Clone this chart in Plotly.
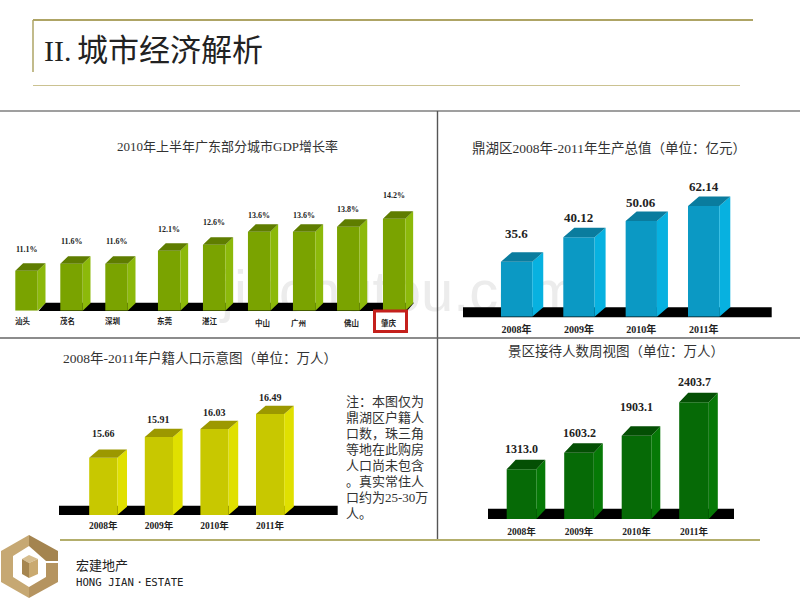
import plotly.graph_objects as go

W, H = 800, 600

# Printed figures and categories.
gdp_cities = ["汕头", "茂名", "深圳", "东莞", "湛江", "中山", "广州", "佛山", "肇庆"]
gdp_labels = ["11.1%", "11.6%", "11.6%", "12.1%", "12.6%", "13.6%", "13.6%", "13.8%", "14.2%"]
years = ["2008年", "2009年", "2010年", "2011年"]
output_labels = ["35.6", "40.12", "50.06", "62.14"]
population_labels = ["15.66", "15.91", "16.03", "16.49"]
visitor_labels = ["1313.0", "1603.2", "1903.1", "2403.7"]

# The reference's bars are not proportional to their printed figures, so the bar
# lengths are read off the picture separately, in the units of each chart's tallest bar.
gdp_lengths = [6.17, 7.25, 7.25, 9.26, 10.19, 12.2, 12.2, 12.96, 14.2]
output_lengths = [30.9, 44.6, 53.7, 62.14]
population_lengths = [9.33, 12.72, 14.03, 16.49]
visitor_lengths = [1024, 1366, 1713, 2403.7]

# Layout (pixels on the 800x600 slide) and style.
gdp_slots = [0, 1, 2, 3.17, 4.17, 5.17, 6.17, 7.15, 8.17]
gdp_label_nudge = [-4, -4, -4, -4, -4, 3, -6, 3, -5]
gdp_label_drop = [9.5, 9.5, 9.5, 9.5, 9.5, 11.5, 11.5, 11.5, 11.5]
PANELS = [
    dict(cats=gdp_cities, slots=gdp_slots, lengths=gdp_lengths, labels=gdp_labels,
         first=26.5, step=45.0, bar=22.4, dx=7.8, dy=7.5, base=310.7, px_top=92.0,
         left=8, right=425, band=(38.5, 414, 302.7, 311), slant=7,
         front="#7aa300", side="#8cb90a", top="#5f7d00",
         label_font=8, rise=[21.7, 22, 22, 21.7, 22.3, 15.7, 15.7, 17.4, 23],
         tick_font=7.5, ticks=False),
    dict(cats=years, slots=[0, 1, 2, 3], lengths=output_lengths, labels=output_labels,
         first=516.6, step=62.35, bar=31.3, dx=11, dy=9.5, base=316.7, px_top=110.7,
         left=455, right=780, band=(463, 771.7, 307.3, 317.3), slant=0,
         front="#0b99c4", side="#07b1e0", top="#0a7c9e",
         label_font=13, rise=[27.7, 19.6, 19, 20], tick_font=10, ticks=True, standoff=5),
    dict(cats=years, slots=[0, 1, 2, 3], lengths=population_lengths, labels=population_labels,
         first=103.3, step=55.6, bar=28.2, dx=9.6, dy=8.3, base=515, px_top=101.0,
         left=50, right=345, band=(59, 337.7, 505.7, 515), slant=0,
         front="#c8c800", side="#e0e000", top="#9c9800",
         label_font=10, rise=[24, 17.6, 17, 17], tick_font=9.5, ticks=True, standoff=3),
    dict(cats=years, slots=[0, 1, 2, 3], lengths=visitor_lengths, labels=visitor_labels,
         first=521.5, step=57.5, bar=29.6, dx=9, dy=9.5, base=519, px_top=116.7,
         left=480, right=745, band=(488, 734, 508.7, 519), slant=0,
         front="#066a06", side="#067906", top="#044f04",
         label_font=12, rise=[20.6, 20, 28.7, 20], tick_font=9.5, ticks=True, standoff=5),
]

TITLE_FONT = "Liberation Serif, Noto Sans CJK SC"
INK = "#333333"
GOLD = "#aea465"
RULE = "#7f7f7f"


def px(x):
    return x / W


def py(y):
    return 1 - y / H


def path(points):
    return "M " + " L ".join(f"{px(x):.5f},{py(y):.5f}" for x, y in points) + " Z"


fig = go.Figure()
shapes, annotations = [], []
axes = {}


def text(x, y, s, size, font=TITLE_FONT, color=INK, anchor="center", bold=False):
    annotations.append(dict(
        x=px(x), y=py(y), xref="paper", yref="paper", text=f"<b>{s}</b>" if bold else s,
        showarrow=False, xanchor=anchor, yanchor="middle",
        font=dict(size=size, family=font, color=color),
    ))


def line(x0, y0, x1, y1, color, width):
    shapes.append(dict(type="line", xref="paper", yref="paper", x0=px(x0), y0=py(y0),
                       x1=px(x1), y1=py(y1), line=dict(color=color, width=width)))


# Watermark sits under the bars, so it goes in as a below-layer shape label.
shapes.append(dict(type="rect", xref="paper", yref="paper", layer="below",
                   x0=px(200), x1=px(600), y0=py(320), y1=py(250), line=dict(width=0),
                   fillcolor="rgba(0,0,0,0)",
                   label=dict(text="jinchutou.com", textposition="middle center",
                              font=dict(size=58, family="Liberation Sans", color="#ececec"))))

for i, p in enumerate(PANELS):
    suffix = "" if i == 0 else str(i + 1)
    xa, ya = f"x{suffix}", f"y{suffix}"
    tallest = max(p["lengths"])
    unit = tallest / p["px_top"]              # value units per pixel
    ceiling_px = p["px_top"] + 30
    slots = p["slots"]
    half = p["bar"] / p["step"] / 2
    depth_x = p["dx"] / p["step"]
    depth_y = p["dy"] * unit

    axes[f"xaxis{suffix}"] = dict(
        domain=[px(p["left"]), px(p["right"])],
        range=[(p["left"] - p["first"]) / p["step"], (p["right"] - p["first"]) / p["step"]],
        anchor=ya, showgrid=False, zeroline=False, showline=False, ticks="",
        tickmode="array", tickvals=slots if p["ticks"] else [],
        ticktext=p["cats"] if p["ticks"] else [],
        ticklabelstandoff=p.get("standoff", 0),
        tickfont=dict(size=p["tick_font"], family="Liberation Serif, Noto Sans CJK SC", color="#222222",
                      weight="bold"),
    )
    axes[f"yaxis{suffix}"] = dict(
        domain=[py(p["base"]), py(p["base"] - ceiling_px)],
        range=[0, ceiling_px * unit], anchor=xa, visible=False,
    )

    # Black floor band behind the bars.
    L, R, T, B = p["band"]
    s = p["slant"]
    shapes.append(dict(type="path", xref="paper", yref="paper", layer="below",
                       path=path([(L, B), (L + s, T), (R, T), (R - s, B)]),
                       fillcolor="#000000", line=dict(width=0)))

    # Side and top faces, derived from each bar's length.
    side_x, side_y, top_x, top_y = [], [], [], []
    for c, v in zip(slots, p["lengths"]):
        r = c + half
        l = c - half
        side_x += [r, r + depth_x, r + depth_x, r, r, None]
        side_y += [0, depth_y, v + depth_y, v, 0, None]
        top_x += [l, l + depth_x, r + depth_x, r, l, None]
        top_y += [v, v + depth_y, v + depth_y, v, v, None]
    fig.add_trace(go.Scatter(x=side_x, y=side_y, xaxis=xa, yaxis=ya, mode="lines", fill="toself",
                             fillcolor=p["side"], line=dict(width=0), hoverinfo="skip", showlegend=False))
    fig.add_trace(go.Scatter(x=top_x, y=top_y, xaxis=xa, yaxis=ya, mode="lines", fill="toself",
                             fillcolor=p["top"], line=dict(width=0), hoverinfo="skip", showlegend=False))
    fig.add_trace(go.Bar(x=slots, y=p["lengths"], width=half * 2, xaxis=xa, yaxis=ya,
                         marker=dict(color=p["front"], line=dict(width=0)), showlegend=False,
                         hovertext=p["labels"], hoverinfo="text"))

    # Printed figures above the bars.
    for c, v, lab, rise in zip(slots, p["lengths"], p["labels"], p["rise"]):
        annotations.append(dict(
            x=c, y=v, xref=xa, yref=ya, text=f"<b>{lab}</b>", showarrow=False,
            xanchor="center", yanchor="middle", yshift=rise,
            font=dict(size=p["label_font"], family="Liberation Serif", color="#222222"),
        ))

    if not p["ticks"]:
        for c, name, nudge, drop in zip(slots, p["cats"], gdp_label_nudge, gdp_label_drop):
            annotations.append(dict(
                x=c, y=0, xref=xa, yref=ya, text=f"<b>{name}</b>", showarrow=False,
                xanchor="center", yanchor="middle", xshift=nudge, yshift=-drop,
                font=dict(size=p["tick_font"], family="Noto Sans CJK SC", color="#222222"),
            ))

# Slide frame
line(33, 20, 753, 20, GOLD, 2)
line(33, 20, 33, 72, GOLD, 1.5)
line(33, 85.5, 740, 85.5, "#cbc291", 1.2)
line(0, 111, 800, 111, RULE, 1.4)
line(437.5, 111, 437.5, 540, "#555555", 1.4)
line(0, 338, 800, 338, "#666666", 1.4)
line(60, 540, 760, 540, "#b3ae6c", 1.8)

# Highlight box round the last city
shapes.append(dict(type="rect", xref="paper", yref="paper", x0=px(374.5), x1=px(406.5),
                   y0=py(331.5), y1=py(311), line=dict(color="#c4201c", width=3)))

# Logo
LIGHT, MID, DARK = "#c6a873", "#b59460", "#a4844f"
shapes.append(dict(type="path", xref="paper", yref="paper", fillcolor=LIGHT, line=dict(width=0),
                   path=path([(29, 535), (29, 546), (13, 556), (13, 577), (29, 587), (29, 598),
                              (1, 582), (1, 551)])))
shapes.append(dict(type="path", xref="paper", yref="paper", fillcolor=DARK, line=dict(width=0),
                   path=path([(29, 535), (58, 551), (58, 561), (46, 561), (29, 546)])))
shapes.append(dict(type="path", xref="paper", yref="paper", fillcolor=MID, line=dict(width=0),
                   path=path([(46, 563), (58, 563), (58, 582), (29, 598), (29, 587), (46, 577)])))
shapes.append(dict(type="path", xref="paper", yref="paper", fillcolor="#d6bd8e", line=dict(width=0),
                   path=path([(29, 555), (38, 559), (29, 563), (22, 559)])))
shapes.append(dict(type="path", xref="paper", yref="paper", fillcolor="#a68650", line=dict(width=0),
                   path=path([(22, 559), (29, 563), (29, 578), (22, 574)])))
shapes.append(dict(type="path", xref="paper", yref="paper", fillcolor="#c9a970", line=dict(width=0),
                   path=path([(29, 563), (38, 559), (38, 574), (29, 578)])))

# Texts
text(42, 50, "II.", 30, anchor="left", color="#222222")
text(75, 50, "城市经济解析", 31, anchor="left", color="#222222")
text(228, 146, "2010年上半年广东部分城市GDP增长率", 13)
text(608.5, 149, "鼎湖区2008年-2011年生产总值（单位：亿元）", 13.5)
text(199.5, 358, "2008年-2011年户籍人口示意图（单位：万人）", 13.5)
text(616, 351, "景区接待人数周视图（单位：万人）", 13.5)
note_lines = ["注：本图仅为", "鼎湖区户籍人", "口数，珠三角", "等地在此购房", "人口尚未包含", "。真实常住人",
              "口约为25-30万", "人。"]
for n, s in enumerate(note_lines):
    text(344, 401 + n * 16.1, s, 13, anchor="left")
text(74, 564, "宏建地产", 13, anchor="left", font="Noto Sans CJK SC", color="#222222")
text(74, 582, "HONG JIAN・ESTATE", 10.7, anchor="left", font="DejaVu Sans Mono", color="#222222")

fig.update_layout(
    width=W, height=H, autosize=False, margin=dict(l=0, r=0, t=0, b=0),
    paper_bgcolor="white", plot_bgcolor="rgba(0,0,0,0)", barmode="overlay",
    shapes=shapes, annotations=annotations, showlegend=False, **axes,
)
fig.write_html("out.html", config={"displayModeBar": False},
               post_script="document.body.style.margin='0';document.body.style.overflow='hidden';")
